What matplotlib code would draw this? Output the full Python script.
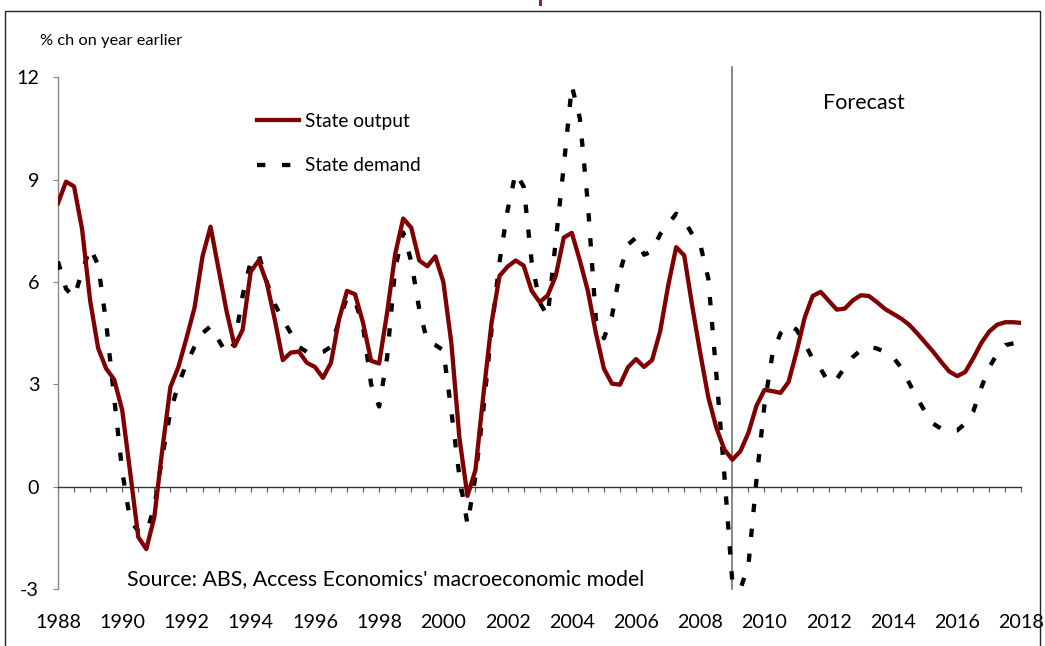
import numpy as np
import matplotlib
matplotlib.use('Agg')
import matplotlib.pyplot as plt
from matplotlib.lines import Line2D

plt.rcParams['font.family'] = ['Lato', 'DejaVu Sans']
plt.rcParams['lines.scale_dashes'] = False

# ---------------- data (quarterly, 1988 Q1 .. 2018 Q1) ----------------
start_year = 1988
output = [8.31, 8.94, 8.80, 7.55, 5.46, 4.06, 3.46, 3.14, 2.24, 0.40,
          -1.48, -1.83, -0.89, 1.10, 2.92, 3.51, 4.35, 5.24, 6.75, 7.62,
          6.38, 5.14, 4.12, 4.60, 6.30, 6.63, 5.98, 4.90, 3.71, 3.93,
          3.96, 3.63, 3.51, 3.19, 3.63, 4.90, 5.74, 5.64, 4.80, 3.69,
          3.61, 5.11, 6.82, 7.86, 7.59, 6.63, 6.46, 6.75, 6.00, 4.20,
          1.43, -0.27, 0.49, 2.72, 4.80, 6.18, 6.45, 6.63, 6.48, 5.74,
          5.41, 5.61, 6.18, 7.30, 7.44, 6.63, 5.74, 4.50, 3.46, 3.02,
          2.99, 3.50, 3.74, 3.51, 3.71, 4.55, 5.89, 7.02, 6.78, 5.29,
          3.91, 2.62, 1.73, 1.09, 0.79, 1.04, 1.58, 2.37, 2.84, 2.80,
          2.75, 3.07, 3.96, 4.95, 5.59, 5.71, 5.45, 5.19, 5.22, 5.46,
          5.61, 5.59, 5.41, 5.21, 5.07, 4.93, 4.75, 4.50, 4.23, 3.96,
          3.66, 3.38, 3.24, 3.36, 3.76, 4.21, 4.55, 4.75, 4.82, 4.82,
          4.80]
demand = [6.6, 5.8, 5.55, 6.3, 7.0, 6.5, 4.8, 2.6, 0.45, -1.0,
          -1.3, -1.35, -0.6, 0.9, 2.2, 3.0, 3.6, 4.1, 4.5, 4.7,
          4.3, 3.9, 4.2, 5.6, 6.6, 6.8, 6.0, 5.35, 4.9, 4.5,
          4.1, 3.95, 3.9, 3.95, 4.1, 4.85, 5.55, 5.45, 4.7, 3.0,
          2.35, 3.8, 6.4, 7.45, 6.6, 5.2, 4.25, 4.15, 4.0, 2.2,
          0.3, -1.1, 0.3, 2.3, 4.6, 6.6, 8.1, 9.2, 8.8, 6.6,
          5.4, 5.0, 7.2, 9.4, 11.75, 10.8, 8.3, 4.9, 4.35, 5.0,
          6.3, 7.1, 7.3, 6.8, 6.9, 7.4, 7.7, 8.0, 7.8, 7.4,
          7.1, 6.1, 3.3, 0.35, -2.8, -3.0, -2.3, 0.2, 2.4, 3.9,
          4.5, 4.75, 4.6, 4.2, 3.75, 3.45, 3.05, 3.15, 3.5, 3.8,
          4.0, 4.1, 4.05, 3.95, 3.8, 3.5, 3.05, 2.6, 2.2, 1.85,
          1.7, 1.65, 1.65, 1.85, 2.2, 2.9, 3.5, 3.9, 4.15, 4.2,
          4.25]
series_labels = ['State output', 'State demand']
xtick_years = list(range(1988, 2019, 2))
yticks = [-3, 0, 3, 6, 9, 12]
forecast_start = 2009
years = start_year + np.arange(len(output)) / 4.0

RED = '#800000'
W, H = 1045, 646

fig = plt.figure(figsize=(W / 100, H / 100), dpi=100)
ax = fig.add_axes([58 / W, 1 - 589 / H, (1021.4 - 58) / W, (589 - 77.3) / H])
ax.set_xlim(1988, 2018)
ax.set_ylim(-3, 12)

lw = 3.1
dash = (6.0, 12.0)
ax.plot(years, demand, color='black', lw=lw, dashes=dash, zorder=3)
ax.plot(years, output, color=RED, lw=lw, zorder=4)

# forecast divider
ax.axvline(forecast_start, ymin=0, ymax=1.02, color='#7f7f7f', lw=1.3,
           clip_on=False, zorder=2)

# spines
for s in ['top', 'right']:
    ax.spines[s].set_visible(False)
ax.spines['left'].set_color('#868686')
ax.spines['left'].set_linewidth(1.0)
ax.spines['bottom'].set_position(('data', 0))
ax.spines['bottom'].set_color('#333333')
ax.spines['bottom'].set_linewidth(1.0)

ax.set_xticks(np.arange(1988, 2018.01, 0.5))
ax.tick_params(axis='x', direction='out', length=3.6, width=0.8,
               color='#555555', labelbottom=False)
ax.set_yticks(yticks)
ax.set_yticklabels([str(v) for v in yticks])
ax.tick_params(axis='y', direction='out', length=3.6, width=0.8,
               color='#868686', pad=10, labelsize=14.2, labelcolor='black')

sec = ax.secondary_xaxis(0)
sec.set_xticks(xtick_years)
sec.set_xticklabels([str(y) for y in xtick_years])
sec.tick_params(axis='x', length=0, pad=18, labelsize=14.2)
sec.spines['bottom'].set_visible(False)

# legend
handles = [Line2D([], [], color=RED, lw=lw),
           Line2D([], [], color='black', lw=lw, dashes=dash)]
ax.legend(handles, series_labels, loc='center left', frameon=False,
          bbox_to_anchor=(257 / W, 1 - 143.5 / H), bbox_transform=fig.transFigure,
          borderpad=0, borderaxespad=0, handlelength=2.2, handletextpad=0.28,
          labelspacing=1.46, fontsize=13.8)

# annotations
ax.text(2013.08, 11.25, 'Forecast', ha='center', va='center', fontsize=15.5)
ax.text(1990.15, -2.72, "Source: ABS, Access Economics' macroeconomic model",
        ha='left', va='center', fontsize=15.3)
fig.text(40 / W, 1 - 41 / H, '% ch on year earlier', ha='left', va='center',
         fontsize=11.8)

# sliver of the cropped-off title visible at the top edge
fig.patches.append(plt.Rectangle((539 / W, 1 - 6 / H), 3 / W, 6 / H,
                                 transform=fig.transFigure, facecolor='#9b1c3a',
                                 edgecolor='none'))

# outer frame
fig.patches.append(plt.Rectangle((5 / W, -0.05), (1040 - 5) / W, 1 - 11 / H + 0.05,
                                 transform=fig.transFigure, fill=False,
                                 edgecolor='#222222', lw=1.0))

fig.savefig('out.png', dpi=100)
